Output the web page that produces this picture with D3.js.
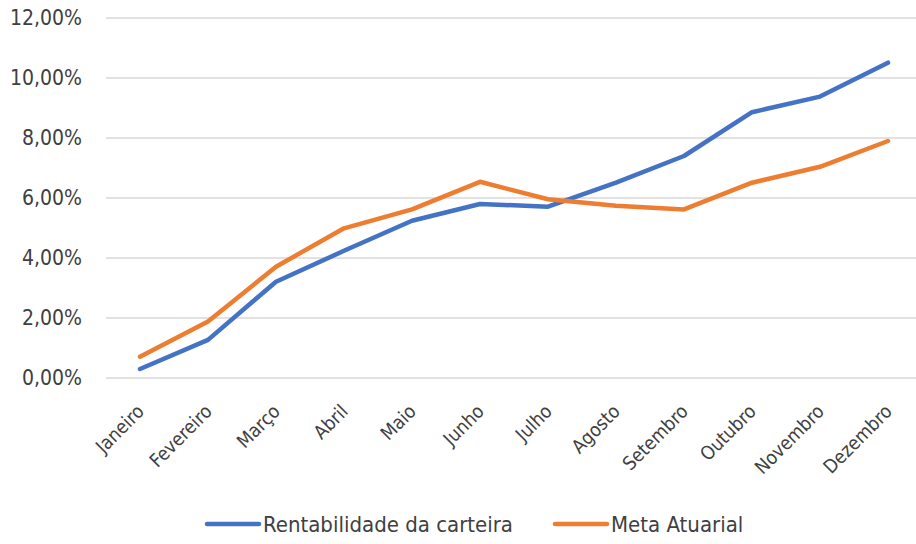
<!DOCTYPE html>
<html>
<head>
<meta charset="utf-8">
<script src="https://cdn.jsdelivr.net/npm/d3@7"></script>
<style>
  body { margin: 0; background: #fff; }
  text { font-family: "Liberation Sans Narrow", "DejaVu Sans Condensed", "Open Sans", sans-serif; fill: #404040; }
</style>
</head>
<body>
<div id="chart"></div>
<script>
// month labels
var months = ["Janeiro", "Fevereiro", "Março", "Abril", "Maio", "Junho",
  "Julho", "Agosto", "Setembro", "Outubro", "Novembro", "Dezembro"];

// values in percent
var rentabilidade = [0.30, 1.27, 3.21, 4.24, 5.24, 5.80, 5.71, 6.51, 7.40, 8.86, 9.38, 10.51];
var metaAtuarial = [0.71, 1.88, 3.71, 4.99, 5.62, 6.54, 5.96, 5.74, 5.62, 6.51, 7.04, 7.90];

var yTicks = [0, 2, 4, 6, 8, 10, 12];

var seriesNames = ["Rentabilidade da carteira", "Meta Atuarial"];
var colors = ["#4472C4", "#ED7D31"];

var svgWidth = 916, svgHeight = 544;
var margin = { top: 18, right: -6, bottom: 166, left: 106 };
var width = svgWidth - margin.left - margin.right;
var height = svgHeight - margin.top - margin.bottom;

var svg = d3.select("#chart").append("svg")
  .attr("width", svgWidth)
  .attr("height", svgHeight);

var chartGroup = svg.append("g")
  .attr("transform", `translate(${margin.left}, ${margin.top})`);

var xScale = d3.scalePoint()
  .domain(months)
  .range([0, width])
  .padding(0.5);

var yScale = d3.scaleLinear()
  .domain([0, 12])
  .range([height, 0]);

// gridlines
chartGroup.append("g")
  .selectAll("line")
  .data(yTicks)
  .enter()
  .append("line")
  .attr("x1", 0)
  .attr("x2", width)
  .attr("y1", d => yScale(d))
  .attr("y2", d => yScale(d))
  .attr("stroke", "#D9D9D9")
  .attr("stroke-width", 1.3);

// y axis labels
var leftAxis = d3.axisLeft(yScale)
  .tickValues(yTicks)
  .tickSize(0)
  .tickPadding(24)
  .tickFormat(d => d.toFixed(2).replace(".", ",") + "%");

chartGroup.append("g")
  .call(leftAxis)
  .call(g => g.select(".domain").remove())
  .selectAll("text")
  .style("font-size", "21px")
  .attr("font-family", null);

// x axis labels
var bottomAxis = d3.axisBottom(xScale).tickSize(0).tickPadding(0);

chartGroup.append("g")
  .attr("transform", `translate(0, ${height})`)
  .call(bottomAxis)
  .call(g => g.select(".domain").remove())
  .selectAll("text")
  .style("font-size", "19px")
  .attr("font-family", null)
  .attr("text-anchor", "end")
  .attr("dy", "0.35em")
  .attr("transform", "translate(0, 30) rotate(-45)");

// lines
var line = d3.line()
  .x((d, i) => xScale(months[i]))
  .y(d => yScale(d));

[rentabilidade, metaAtuarial].forEach(function(values, i) {
  chartGroup.append("path")
    .datum(values)
    .attr("fill", "none")
    .attr("stroke", colors[i])
    .attr("stroke-width", 4.5)
    .attr("stroke-linecap", "round")
    .attr("stroke-linejoin", "round")
    .attr("d", line);
});

// legend
var legend = svg.append("g").attr("transform", "translate(0, 524)");
var legendX = [205, 553];

seriesNames.forEach(function(name, i) {
  legend.append("line")
    .attr("x1", legendX[i] + 2)
    .attr("x2", legendX[i] + 54)
    .attr("y1", 0)
    .attr("y2", 0)
    .attr("stroke", colors[i])
    .attr("stroke-width", 4.5)
    .attr("stroke-linecap", "round");
  legend.append("text")
    .attr("x", legendX[i] + 58)
    .attr("y", 0)
    .attr("dy", "0.35em")
    .style("font-size", "22px")
    .text(name);
});
</script>
</body>
</html>
